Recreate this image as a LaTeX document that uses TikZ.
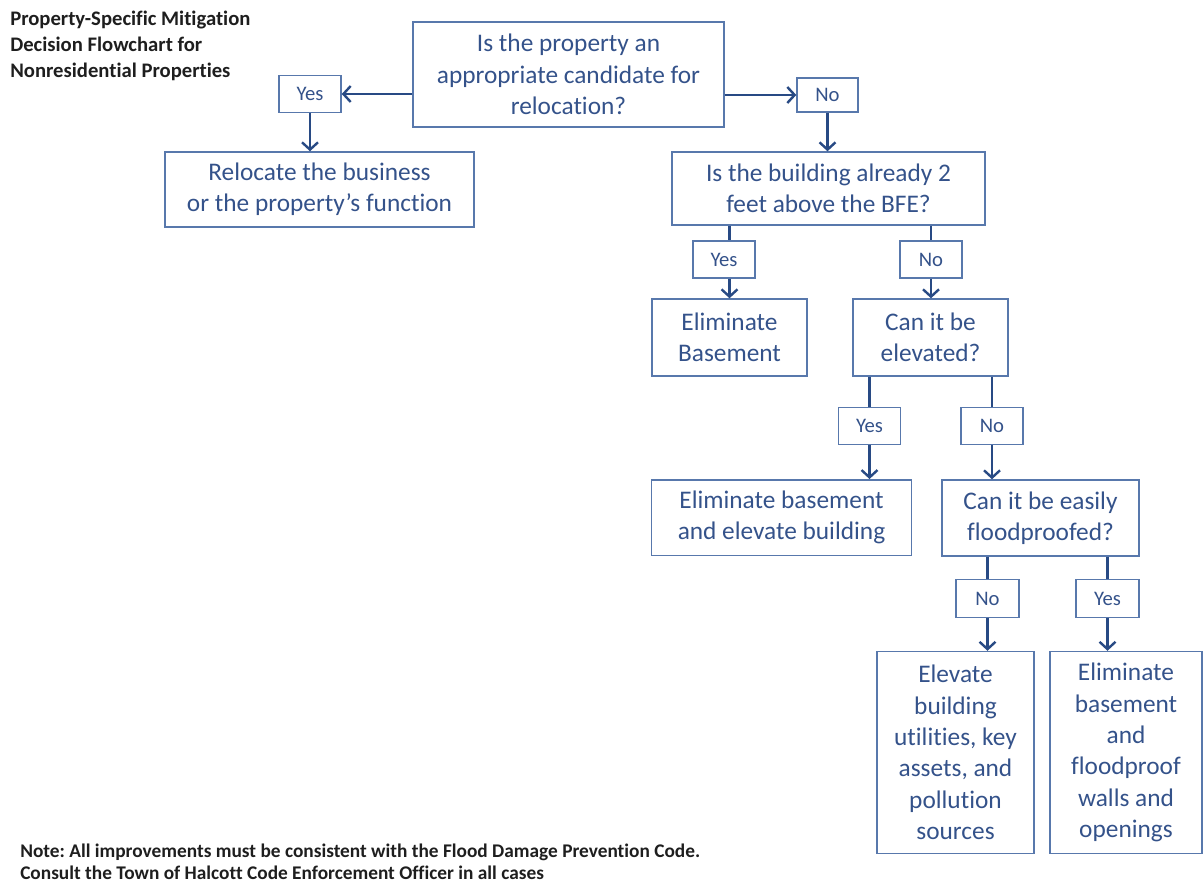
\documentclass[tikz,border=0pt]{standalone}
\usepackage{fontspec}
\setmainfont{Carlito}[Ligatures=NoCommon]
\usetikzlibrary{arrows.meta}
\definecolor{txt}{RGB}{52,82,138}
\definecolor{bdr}{RGB}{88,120,172}
\definecolor{arr}{RGB}{40,74,132}
\definecolor{ttl}{RGB}{30,30,30}
\frenchspacing
\begin{document}
\begin{tikzpicture}[x=0.75pt,y=-0.75pt,
 box/.style={draw=bdr, line width=1.1pt, text=txt, align=center, inner sep=0pt, font=\fontsize{19}{23.5}\selectfont},
 lbl/.style={draw=bdr, line width=1.1pt, text=txt, inner sep=0pt, font=\fontsize{15.5}{18}\selectfont},
 con/.style={draw=arr, line width=1.8pt},
 arw/.style={con, -{Straight Barb[length=5.5pt,width=12pt]}},
 notetext/.style={anchor=north west, align=left, inner sep=0pt, text=ttl}]
\useasboundingbox (0,0) rectangle (1203,884);

\node[notetext, font=\bfseries\fontsize{15.5}{19.5}\selectfont] (title) at (10,11)
 {Property-Specific Mitigation\\Decision Flowchart for\\Nonresidential Properties};

\node[box, minimum width=233.25pt, minimum height=78.75pt] (q1) at (568.5,74.5) {Is the property an\\appropriate candidate for\\relocation?};
\node[lbl, minimum width=46.5pt, minimum height=27.75pt] (y1) at (310,94) {Yes};
\node[box, minimum width=231.75pt, minimum height=56.25pt] (reloc) at (319.5,189.5) {Relocate the business\\or the property’s function};
\node[lbl, minimum width=45.75pt, minimum height=25.5pt] (n1) at (827.5,95) {No};
\node[box, minimum width=234.75pt, minimum height=54.75pt] (q2) at (828.5,188.5) {Is the building already 2\\feet above the BFE?};
\node[lbl, minimum width=46.5pt, minimum height=27.75pt] (y2) at (724,259.5) {Yes};
\node[lbl, minimum width=46.5pt, minimum height=27.75pt] (n2) at (931,259.5) {No};
\node[box, minimum width=116.25pt, minimum height=57.75pt] (elb) at (729.5,337.5) {Eliminate\\Basement};
\node[box, minimum width=116.25pt, minimum height=57.75pt] (q3) at (930.5,337.5) {Can it be\\elevated?};
\node[lbl, minimum width=46.5pt, minimum height=27.5pt] (y3) at (869.5,426) {Yes};
\node[lbl, minimum width=46.5pt, minimum height=27.5pt] (n3) at (992,426) {No};
\node[box, minimum width=195pt, minimum height=56.6pt] (ebe) at (781.5,517.5) {Eliminate basement\\and elevate building};
\node[box, minimum width=147.75pt, minimum height=57pt] (q4) at (1040.5,518) {Can it be easily\\floodproofed?};
\node[lbl, minimum width=47.25pt, minimum height=28.5pt] (n4) at (987.5,598.5) {No};
\node[lbl, minimum width=47.25pt, minimum height=28.5pt] (y4) at (1107.5,598.5) {Yes};
\node[box, minimum width=117.75pt, minimum height=151.5pt] (ev) at (955.5,752.5) {Elevate\\building\\utilities, key\\assets, and\\pollution\\sources};
\node[box, minimum width=114pt, minimum height=151.5pt] (ebf) at (1126,752.5) {Eliminate\\basement\\and\\floodproof\\walls and\\openings};

\node[notetext, font=\bfseries\fontsize{14.5}{16}\selectfont] (nt) at (20,844) {Note: All improvements must be consistent with the Flood Damage Prevention Code.\\Consult the Town of Halcott Code Enforcement Officer in all cases};

\draw[arw] (q1.west |- y1.east) -- (y1.east);
\draw[arw] (y1.south) -- (y1.south |- reloc.north);
\draw[arw] (q1.east |- n1.west) -- (n1.west);
\draw[arw] (n1.south) -- (n1.south |- q2.north);
\draw[con] (q2.south -| elb.north) -- (y2.north -| elb.north);
\draw[arw] (y2.south -| elb.north) -- (elb.north);
\draw[con] (q2.south -| n2.north) -- (n2.north);
\draw[arw] (n2.south) -- (n2.south |- q3.north);
\draw[con] (q3.south -| y3.north) -- (y3.north);
\draw[arw] (y3.south) -- (y3.south |- ebe.north);
\draw[con] (q3.south -| n3.north) -- (n3.north);
\draw[arw] (n3.south) -- (n3.south |- q4.north);
\draw[con] (q4.south -| n4.north) -- (n4.north);
\draw[arw] (n4.south) -- (n4.south |- ev.north);
\draw[con] (q4.south -| y4.north) -- (y4.north);
\draw[arw] (y4.south) -- (y4.south |- ebf.north);
\end{tikzpicture}
\end{document}
